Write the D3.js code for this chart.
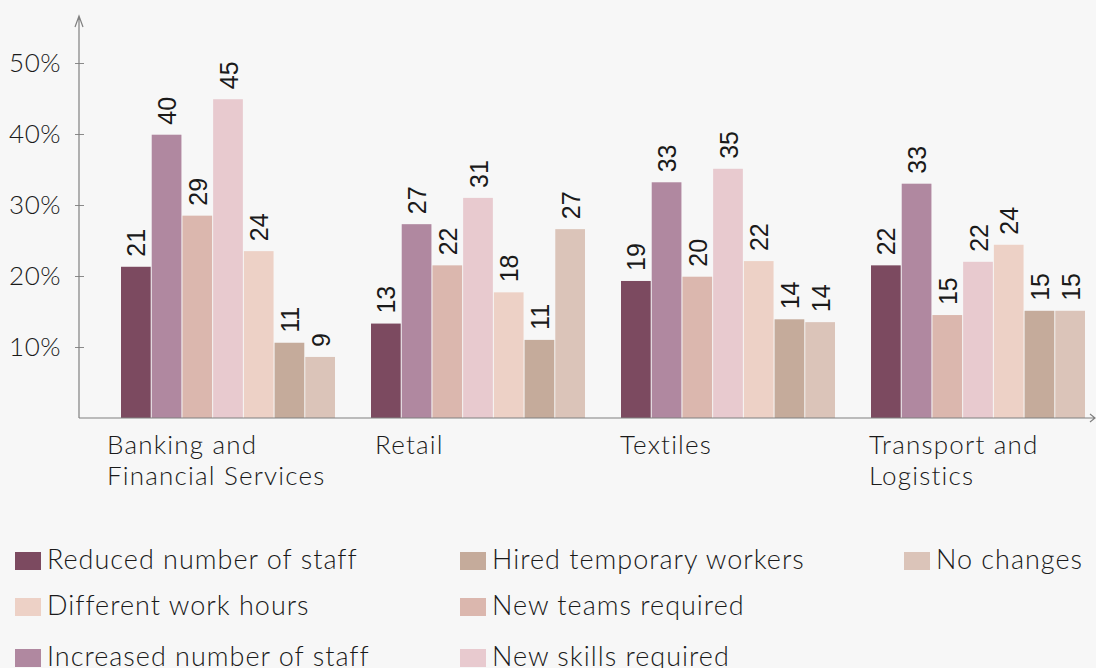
<!DOCTYPE html>
<html>
<head>
<meta charset="utf-8">
<script src="https://cdn.jsdelivr.net/npm/d3@7"></script>
<style>
  html, body { margin: 0; padding: 0; background: #f7f7f7; }
  svg { display: block; }
  .lbl { font-family: "Lato", "Open Sans", sans-serif; font-weight: 300; fill: #1a1a1a; }
  .val { font-family: "Liberation Sans", Arial, sans-serif; fill: #1a1a1a; }
</style>
</head>
<body>
<svg id="chart"></svg>
<script>
// categories and their wrapped labels
const categories = ["Banking and Financial Services", "Retail", "Textiles", "Transport and Logistics"];
const categoryLines = [["Banking and", "Financial Services"], ["Retail"], ["Textiles"], ["Transport and", "Logistics"]];

// series (bar order inside each group)
const seriesNames = ["Reduced number of staff", "Increased number of staff", "New teams required",
  "New skills required", "Different work hours", "Hired temporary workers", "No changes"];
const seriesColors = ["#7c4a60", "#b088a0", "#dbb7ae", "#e8cacf", "#edd1c6", "#c5ab9b", "#dbc4b9"];

// values, percent, one per category
const reducedStaff   = [21.3, 13.3, 19.3, 21.5];
const increasedStaff = [39.9, 27.3, 33.2, 33.0];
const newTeams       = [28.5, 21.5, 19.9, 14.5];
const newSkills      = [44.9, 31.0, 35.1, 22.0];
const differentHours = [23.5, 17.7, 22.1, 24.4];
const hiredTemporary = [10.6, 11.0, 13.9, 15.1];
const noChanges      = [8.6, 26.6, 13.5, 15.1];
const seriesValues = [reducedStaff, increasedStaff, newTeams, newSkills, differentHours, hiredTemporary, noChanges];

const yTicks = [10, 20, 30, 40, 50];

// legend order (column by column)
const legendOrder = ["Reduced number of staff", "Different work hours", "Increased number of staff",
  "Hired temporary workers", "New teams required", "New skills required", "No changes"];

const width = 1096, height = 668;
const axisX = 79, baseY = 418, topY = 16;

const svg = d3.select('#chart').attr('width', width).attr('height', height);

const x = d3.scaleBand()
  .domain(categories)
  .range([103.5, 1103.5])
  .paddingInner(0.14)
  .paddingOuter(0.07);

const xs = d3.scaleBand()
  .domain(seriesNames)
  .range([0, x.bandwidth()]);

const y = d3.scaleLinear()
  .domain([0, 50])
  .range([baseY, 63]);

const color = d3.scaleOrdinal().domain(seriesNames).range(seriesColors);

const data = [];
categories.forEach((c, ci) => {
  seriesNames.forEach((s, si) => {
    data.push({ cat: c, series: s, value: seriesValues[si][ci] });
  });
});

// bars
svg.append('g').selectAll('rect')
  .data(data)
  .enter().append('rect')
  .attr('x', d => x(d.cat) + xs(d.series))
  .attr('width', xs.bandwidth() - 1)
  .attr('y', d => y(d.value))
  .attr('height', d => y(0) - y(d.value))
  .attr('fill', d => color(d.series));

// value labels
svg.append('g').selectAll('text')
  .data(data)
  .enter().append('text')
  .attr('class', 'val')
  .attr('transform', d => `translate(${x(d.cat) + xs(d.series) + xs.bandwidth() / 2},${y(d.value) - 10}) rotate(-90)`)
  .attr('dy', '0.36em')
  .style('font-size', '25px')
  .text(d => Math.round(d.value));

// y axis
const yAxis = svg.append('g')
  .attr('transform', `translate(${axisX},0)`)
  .call(d3.axisLeft(y).tickValues(yTicks).tickSize(4).tickPadding(14).tickFormat(d => d + '%'));
yAxis.select('.domain').remove();
yAxis.selectAll('.tick line').attr('x1', 5).attr('x2', -4).attr('stroke', '#8a8a8a');
yAxis.selectAll('.tick text')
  .attr('class', 'lbl')
  .style('font-size', '26px')
  .style('letter-spacing', '0.5px')
  .attr('fill', null);

// axis lines with arrows
const axisG = svg.append('g').attr('fill', 'none').attr('stroke', '#808080').attr('stroke-width', 1.2);
axisG.append('path').attr('d', `M${axisX},${baseY}V${topY}M${axisX - 4},${topY + 11}L${axisX},${topY}L${axisX + 4},${topY + 11}`);
axisG.append('path').attr('d', `M${axisX},${baseY}H1094M1090,${baseY - 4}L1095,${baseY}L1090,${baseY + 4}`);

// category labels
const catDx = [-14, 4, -1, -2];
const catG = svg.append('g');
categories.forEach((c, i) => {
  const t = catG.append('text').attr('class', 'lbl')
    .style('font-size', '26px').style('letter-spacing', '1.2px')
    .attr('x', x(c) + catDx[i]).attr('y', 454);
  categoryLines[i].forEach((line, li) => {
    t.append('tspan').attr('x', x(c) + catDx[i]).attr('dy', li === 0 ? 0 : 31).text(line);
  });
});

// legend
const legendColX = [15, 460, 904];
const legendRowY = [552, 598, 649];
const legend = svg.append('g').selectAll('g')
  .data(legendOrder)
  .enter().append('g')
  .attr('transform', (d, i) => `translate(${legendColX[Math.floor(i / 3)]},${legendRowY[i % 3]})`);
legend.append('rect').attr('width', 26).attr('height', 18).attr('fill', d => color(d));
legend.append('text').attr('class', 'lbl')
  .style('font-size', '27px').style('letter-spacing', '1px')
  .attr('x', 32).attr('y', 17).text(d => d);
</script>
</body>
</html>
